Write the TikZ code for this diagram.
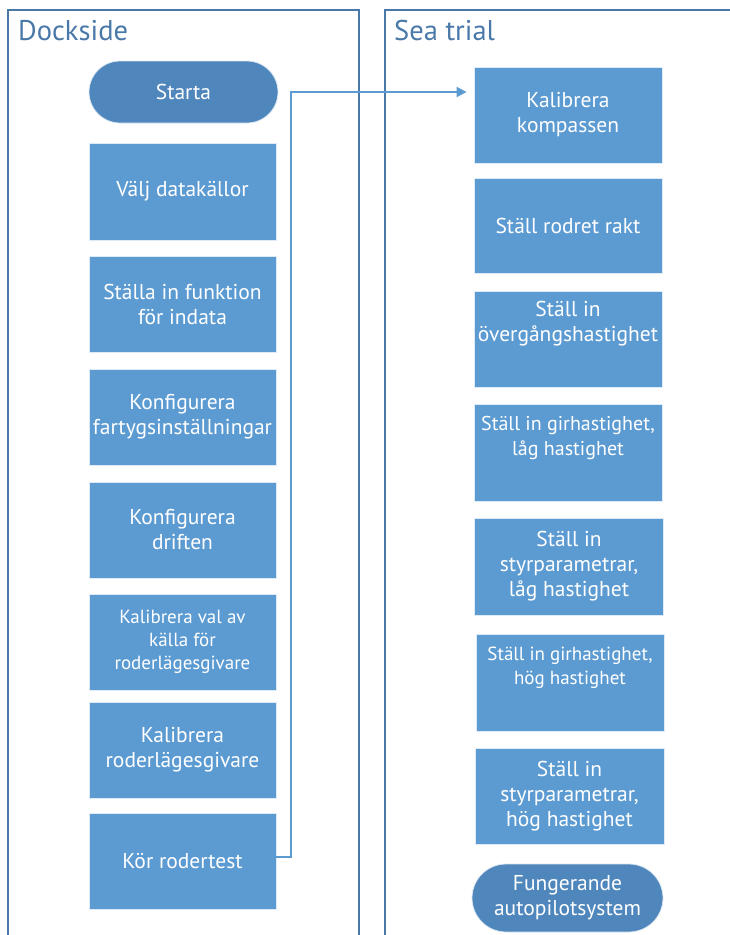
\documentclass[tikz,border=0pt]{standalone}
\usepackage{fontspec}
\setmainfont{PT Sans}
\usetikzlibrary{arrows.meta,shapes.misc}
\definecolor{boxblue}{HTML}{5C9BD2}
\definecolor{pillblue}{HTML}{4F87BD}
\definecolor{framecol}{HTML}{4A78A8}
\definecolor{linkblue}{HTML}{5C9BD2}
\begin{document}
\begin{tikzpicture}[x=1pt,y=-1pt,
  stepbox/.style={draw=white!80!boxblue,line width=0.8pt,fill=boxblue,text=white,align=center,font=\fontsize{21.5}{25}\selectfont,inner sep=0pt},
  pill/.style={draw=white!80!pillblue,line width=0.8pt,fill=pillblue,text=white,align=center,font=\fontsize{21.5}{25}\selectfont,rounded rectangle,inner sep=0pt},
  frame/.style={draw=framecol,line width=1.4pt},
  title/.style={text=framecol,font=\fontsize{28.5}{31}\selectfont,anchor=base west,inner sep=0pt}]
\useasboundingbox (0,0) rectangle (730,935);
% frames
\draw[frame] (8,935) -- (8,10) -- (359,10) -- (359,935);
\draw[frame] (385,935) -- (385,10) -- (731,10);
\node[title] (tdock) at (18,40) {Dockside};
\node[title] (tsea) at (394,40) {Sea trial};
% left column
\node[pill,minimum width=189pt,minimum height=62pt] (start) at (183.5,92) {Starta};
\node[stepbox,minimum width=187pt,minimum height=97pt] (l1) at (182.5,191.5) {Välj datakällor};
\node[stepbox,minimum width=187pt,minimum height=96pt] (l2) at (182.5,304) {Ställa in funktion\\för indata};
\node[stepbox,minimum width=187pt,minimum height=96pt] (l3) at (182.5,417) {Konfigurera\\fartygsinställningar};
\node[stepbox,minimum width=187pt,minimum height=96pt] (l4) at (182.5,530) {Konfigurera\\driften};
\node[stepbox,minimum width=187pt,minimum height=96pt,font=\fontsize{19}{23}\selectfont] (l5) at (182.5,642) {Kalibrera val av\\källa för\\roderlägesgivare};
\node[stepbox,minimum width=187pt,minimum height=96pt] (l6) at (182.5,750) {Kalibrera\\roderlägesgivare};
\node[stepbox,minimum width=187pt,minimum height=96pt] (l7) at (182.5,861) {Kör rodertest};
% right column
\node[stepbox,minimum width=188pt,minimum height=96pt] (r1) at (568,115) {Kalibrera\\kompassen};
\node[stepbox,minimum width=188pt,minimum height=95pt] (r2) at (568,225.5) {Ställ rodret rakt};
\node[stepbox,minimum width=188pt,minimum height=96pt] (r3) at (568,339) {Ställ in\\övergångshastighet\\[2pt]\strut};
\node[stepbox,minimum width=188pt,minimum height=97pt,font=\fontsize{20}{25}\selectfont] (r4) at (568,453) {Ställ in girhastighet,\\låg hastighet\\[2pt]\strut};
\node[stepbox,minimum width=189pt,minimum height=97pt] (r5) at (569,566.5) {Ställ in\\styrparametrar,\\låg hastighet};
\node[stepbox,minimum width=188pt,minimum height=97pt,font=\fontsize{19}{24}\selectfont] (r6) at (570,682.5) {Ställ in girhastighet,\\hög hastighet\\[2pt]\strut};
\node[stepbox,minimum width=189pt,minimum height=96pt] (r7) at (569.5,796) {Ställ in\\styrparametrar,\\hög hastighet};
\node[pill,minimum width=191pt,minimum height=68pt] (end) at (567.5,898) {Fungerande\\autopilotsystem};
% connector
\coordinate (bend) at (291,857);
\draw[linkblue,line width=1.8pt,-{Triangle[length=10pt,width=10pt]}]
  (l7.east |- bend) -- (bend) -- (291,92) -- ([xshift=-7pt]r1.west |- 0,92);
\end{tikzpicture}
\end{document}
